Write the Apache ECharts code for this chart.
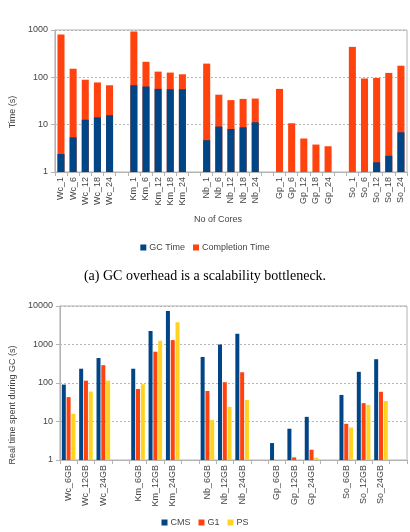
<!DOCTYPE html>
<html>
<head>
<meta charset="utf-8">
<script src="https://cdn.jsdelivr.net/npm/echarts@6/dist/echarts.min.js"></script>
<style>
  html, body { margin: 0; padding: 0; background: #fff; }
  #chart { width: 410px; height: 532px; }
</style>
</head>
<body>
<div id="chart"></div>
<script>
// (a) completion time vs GC time per core count
const coreCats = ['Wc_1', 'Wc_6', 'Wc_12', 'Wc_18', 'Wc_24', '',
  'Km_1', 'Km_6', 'Km_12', 'Km_18', 'Km_24', '',
  'Nb_1', 'Nb_6', 'Nb_12', 'Nb_18', 'Nb_24', '',
  'Gp_1', 'Gp_6', 'Gp_12', 'Gp_18', 'Gp_24', '',
  'So_1', 'So_6', 'So_12', 'So_18', 'So_24'];
const gcTime = [2.4, 5.4, 12.7, 14.3, 15.8, null,
  68, 64, 57, 56, 56, null,
  4.7, 9.1, 8.1, 8.8, 11.2, null,
  null, null, null, null, null, null,
  null, null, 1.6, 2.2, 6.9];
const completionTime = [800, 152, 89, 78, 68, null,
  930, 213, 132, 126, 116, null,
  195, 43, 33, 35, 35.6, null,
  57, 10.7, 5.1, 3.8, 3.5, null,
  440, 94, 97, 124, 176];
const timeTicks = [1, 10, 100, 1000];

// (b) real time spent in GC per heap size
const heapCats = ['Wc_6GB', 'Wc_12GB', 'Wc_24GB', '',
  'Km_6GB', 'Km_12GB', 'Km_24GB', '',
  'Nb_6GB', 'Nb_12GB', 'Nb_24GB', '',
  'Gp_6GB', 'Gp_12GB', 'Gp_24GB', '',
  'So_6GB', 'So_12GB', 'So_24GB', ''];
const cms = [91, 235, 445, null, 235, 2240, 7400, null, 475, 1000, 1900, null,
  2.75, 6.5, 13.2, null, 49, 195, 415, null];
const g1 = [43, 115, 290, null, 70, 650, 1300, null, 62, 105, 190, null,
  null, 1.17, 1.85, null, 8.7, 30, 59, null];
const ps = [15.8, 60, 115, null, 93, 1250, 3800, null, 11, 24, 36, null,
  null, null, 1.15, null, 7, 27, 34, null];
const gcTicks = [1, 10, 100, 1000, 10000];

const BLUE = '#004586', ORANGE = '#ff420e', YELLOW = '#ffd320';
const GRAY = '#b3b3b3', TXT = '#444';
const FONT = 'Liberation Sans';

const catAxis = (gridIndex, data, name) => ({
  type: 'category',
  gridIndex,
  data,
  name,
  nameLocation: 'middle',
  nameGap: 43,
  nameTextStyle: { fontFamily: FONT, fontSize: 9, color: TXT, padding: [0, 26, 0, 0] },
  axisLine: { lineStyle: { color: GRAY } },
  axisTick: { show: true, length: 4, lineStyle: { color: GRAY }, interval: 0 },
  axisLabel: { interval: 0, rotate: 90, margin: 5, fontFamily: FONT, fontSize: 9, color: TXT }
})

const logAxis = (gridIndex, ticks, name, gap, shift) => ({
  type: 'log',
  logBase: 10,
  gridIndex,
  min: ticks[0],
  max: ticks[ticks.length - 1],
  name,
  nameLocation: 'middle',
  nameGap: gap,
  nameTextStyle: { fontFamily: FONT, fontSize: 9, color: TXT, padding: [0, shift, 0, 0] },
  axisLine: { show: true, lineStyle: { color: GRAY } },
  axisTick: { show: true, length: 4, lineStyle: { color: GRAY } },
  axisLabel: { margin: 7, fontFamily: FONT, fontSize: 9, color: TXT,
    formatter: v => String(Math.round(v)) },
  splitLine: { show: true, lineStyle: { color: GRAY, type: [2, 2] } }
})

const chart = echarts.init(document.getElementById('chart'));
chart.setOption({
  animation: false,
  backgroundColor: '#fff',
  title: {
    text: '(a) GC overhead is a scalability bottleneck.',
    left: 'center',
    top: 264,
    textStyle: { fontFamily: 'Liberation Serif', fontSize: 14, fontWeight: 'normal', color: '#000' }
  },
  legend: [
    {
      data: ['GC Time', 'Completion Time'],
      top: 238, left: 'center',
      icon: 'rect', itemWidth: 6, itemHeight: 6, itemGap: 8,
      textStyle: { fontFamily: FONT, fontSize: 9, color: TXT, padding: [0, 0, 0, -2] }
    },
    {
      data: ['CMS', 'G1', 'PS'],
      top: 513, left: 'center',
      icon: 'rect', itemWidth: 6, itemHeight: 6, itemGap: 8,
      textStyle: { fontFamily: FONT, fontSize: 9, color: TXT, padding: [0, 0, 0, -2] }
    }
  ],
  grid: [
    { left: 53, right: 3, top: 30, height: 142, show: true, borderColor: GRAY, borderWidth: 1 },
    { left: 58, right: 3, top: 306, height: 154, show: true, borderColor: GRAY, borderWidth: 1 }
  ],
  xAxis: [
    catAxis(0, coreCats, 'No of Cores'),
    catAxis(1, heapCats, '')
  ],
  yAxis: [
    logAxis(0, timeTicks, 'Time (s)', 36, 22),
    logAxis(1, gcTicks, 'Real time spent during GC (s)', 40, 44)
  ],
  series: [
    { name: 'GC Time', type: 'bar', xAxisIndex: 0, yAxisIndex: 0, data: gcTime,
      barWidth: '58%', barGap: '-100%', z: 3, itemStyle: { color: BLUE } },
    { name: 'Completion Time', type: 'bar', xAxisIndex: 0, yAxisIndex: 0, data: completionTime,
      barWidth: '58%', barGap: '-100%', z: 2, itemStyle: { color: ORANGE } },
    { name: 'CMS', type: 'bar', xAxisIndex: 1, yAxisIndex: 1, data: cms,
      barWidth: 4, barGap: '20%', itemStyle: { color: BLUE } },
    { name: 'G1', type: 'bar', xAxisIndex: 1, yAxisIndex: 1, data: g1,
      barWidth: 4, barGap: '20%', itemStyle: { color: ORANGE } },
    { name: 'PS', type: 'bar', xAxisIndex: 1, yAxisIndex: 1, data: ps,
      barWidth: 4, barGap: '20%', itemStyle: { color: YELLOW } }
  ]
});
</script>
</body>
</html>
